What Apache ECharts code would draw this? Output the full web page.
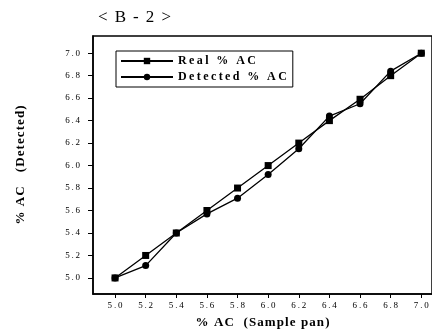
<!DOCTYPE html>
<html>
<head>
<meta charset="utf-8">
<script src="https://cdn.jsdelivr.net/npm/echarts@6/dist/echarts.min.js"></script>
<style>
  html, body { margin: 0; padding: 0; background: #fff; }
  #chart { width: 432px; height: 334px; }
</style>
</head>
<body>
<div id="chart"></div>
<script>
// sample pan %AC (x axis)
var samplePan = [5.0, 5.2, 5.4, 5.6, 5.8, 6.0, 6.2, 6.4, 6.6, 6.8, 7.0]
var realAC = [5.0, 5.2, 5.4, 5.6, 5.8, 6.0, 6.2, 6.4, 6.59, 6.8, 7.0]
var detectedAC = [5.0, 5.11, 5.4, 5.57, 5.71, 5.92, 6.15, 6.44, 6.55, 6.84, 7.0]
var xTicks = [5.0, 5.2, 5.4, 5.6, 5.8, 6.0, 6.2, 6.4, 6.6, 6.8, 7.0]
var yTicks = [5.0, 5.2, 5.4, 5.6, 5.8, 6.0, 6.2, 6.4, 6.6, 6.8, 7.0]

var serif = 'Liberation Serif'
// the scan has wide letter spacing, fake it with thin / hair spaces
var spaced = function (s) { return s.split('').join('\u2009') }
var hair = function (s) { return s.split('').join('\u200A') }

var myChart = echarts.init(document.getElementById('chart'))
myChart.setOption({
  animation: false,
  title: {
    text: hair('< B - 2 >'),
    left: 93,
    top: 4,
    textStyle: { fontFamily: serif, fontSize: 17, fontWeight: 'normal', color: '#000' }
  },
  legend: {
    orient: 'vertical',
    left: 116,
    top: 51,
    padding: [4, 6, 4, 4],
    itemGap: 4,
    itemWidth: 52,
    itemHeight: 8,
    borderColor: '#000',
    borderWidth: 1,
    formatter: spaced,
    textStyle: { fontFamily: serif, fontSize: 12, fontWeight: 'bold', color: '#000' },
    data: ['Real % AC', 'Detected % AC']
  },
  grid: {
    left: 93,
    top: 36,
    right: 0,
    bottom: 36,
    show: true,
    borderColor: '#000',
    borderWidth: 1.5
  },
  xAxis: {
    type: 'value',
    min: 4.856,
    max: 7.07,
    name: hair('% AC  (Sample pan)'),
    nameLocation: 'middle',
    nameGap: 22,
    nameTextStyle: { fontFamily: serif, fontSize: 13, fontWeight: 'bold', color: '#000' },
    axisLine: { lineStyle: { color: '#000', width: 1.5 } },
    axisTick: { show: true, length: 4, customValues: xTicks, lineStyle: { color: '#000' } },
    axisLabel: {
      customValues: xTicks,
      margin: 7,
      fontFamily: serif,
      fontSize: 9,
      color: '#000',
      formatter: function (v) { return spaced(v.toFixed(1)) }
    },
    splitLine: { show: false }
  },
  yAxis: {
    type: 'value',
    min: 4.857,
    max: 7.153,
    name: hair('% AC   (Detected)'),
    nameLocation: 'middle',
    nameGap: 66,
    nameTextStyle: { fontFamily: serif, fontSize: 13, fontWeight: 'bold', color: '#000' },
    axisLine: { lineStyle: { color: '#000', width: 1.5 } },
    axisTick: { show: true, length: 5, customValues: yTicks, lineStyle: { color: '#000' } },
    axisLabel: {
      customValues: yTicks,
      margin: 13,
      fontFamily: serif,
      fontSize: 9,
      color: '#000',
      formatter: function (v) { return spaced(v.toFixed(1)) }
    },
    splitLine: { show: false }
  },
  series: [
    {
      name: 'Real % AC',
      type: 'line',
      symbol: 'rect',
      symbolSize: 7,
      itemStyle: { color: '#000' },
      lineStyle: { color: '#000', width: 1.3 },
      data: samplePan.map(function (x, i) { return [x, realAC[i]] })
    },
    {
      name: 'Detected % AC',
      type: 'line',
      symbol: 'circle',
      symbolSize: 7,
      itemStyle: { color: '#000' },
      lineStyle: { color: '#000', width: 1.3 },
      data: samplePan.map(function (x, i) { return [x, detectedAC[i]] })
    }
  ]
})
</script>
</body>
</html>
